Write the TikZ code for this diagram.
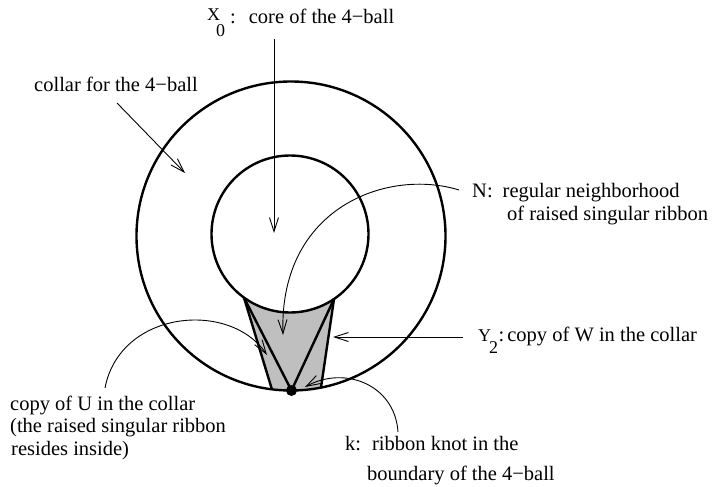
\documentclass[tikz,border=0pt]{standalone}
\usepackage{fontspec}
\setmainfont{Liberation Serif}
\usetikzlibrary{arrows.meta}
\newcommand\subsz{\fontsize{18}{18}\selectfont}
\begin{document}
\begin{tikzpicture}[x=1pt,y=-1pt,
  thickline/.style={line width=2.4pt,line join=round},
  pointer/.style={line width=0.9pt,-{Straight Barb[length=14pt,width=9pt,line width=0.9pt]}},
  lab/.style={anchor=base west,inner sep=0pt,font=\fontsize{20.5}{23}\selectfont},
]
\useasboundingbox (0,0) rectangle (716,487);
% centres
\coordinate (oc) at (291,236);
\coordinate (ic) at (290,234);
% corners of the shaded region
\coordinate (tl) at ([shift={(ic)}]125.9:78.5);
\coordinate (tr) at ([shift={(ic)}]55.9:78.5);
\coordinate (br) at ([shift={(oc)}]78.8:154.5);
\coordinate (bl) at ([shift={(oc)}]97.1:154.5);
% shaded region
\fill[gray!50] (tl) arc[start angle=125.9,end angle=55.9,radius=78.5]
  -- (br) arc[start angle=78.8,end angle=97.1,radius=154.5] -- cycle;
% circles
\draw[thickline] (oc) circle[radius=154.5];
\draw[thickline] (ic) circle[radius=78.5];
% knot point
\node[circle,fill=black,inner sep=0pt,minimum size=11pt] (dot) at (291.5,390.5) {};
% edges of the region
\draw[thickline] (tl) -- (bl);
\draw[thickline] (tr) -- (br);
\draw[thickline] (tl) -- (dot.center) -- (tr);
% labels
\node[lab] (x0) at (207,24) {\raisebox{3pt}{\subsz X}\kern-4pt\raisebox{-13pt}{\subsz 0}\kern5pt:\kern13pt core of the 4−ball};
\node[lab] (collar) at (34,92) {collar for the 4−ball};
\node[lab] (n1) at (472,197) {N:\kern10pt regular neighborhood};
\node[lab] (n2) at (507,220) {of raised singular ribbon};
\node[lab] (y2) at (478,341) {{\subsz Y}\kern-2pt\raisebox{-12pt}{\subsz 2}\kern0.5pt:\kern3pt copy of W in the collar};
\node[lab] (u1) at (10,410) {copy of U in the collar};
\node[lab] (u2) at (10,432) {(the raised singular ribbon};
\node[lab] (u3) at (11,455) {resides inside)};
\node[lab] (k1) at (345,450) {k:\kern11pt ribbon knot in the};
\node[lab] (k2) at (367,480) {boundary of the 4−ball};
% connector ends
\coordinate (x0s) at (274,39);
\coordinate (x0e) at (274,233);
\coordinate (cs) at (117,103);
\coordinate (ce) at (185,173);
\coordinate (ns) at (459,190);
\coordinate (ne) at (283,335);
\coordinate (ys) at (463,337);
\coordinate (ye) at (333,337);
\coordinate (us) at (105,388);
\coordinate (ue) at (267,355);
\coordinate (ks) at (398,432);
\coordinate (ke) at (305,387);
% connectors
\draw[pointer] (x0s) -- (x0e);
\draw[pointer] (cs) -- (ce);
\draw[pointer] (ns) .. controls (388,168) and (279,207) .. (ne);
\draw[pointer] (ys) -- (ye);
\draw[pointer] (us) .. controls (120,310) and (230,300) .. (ue);
\draw[pointer] (ks) .. controls (395,385) and (345,365) .. (ke);
\end{tikzpicture}
\end{document}
